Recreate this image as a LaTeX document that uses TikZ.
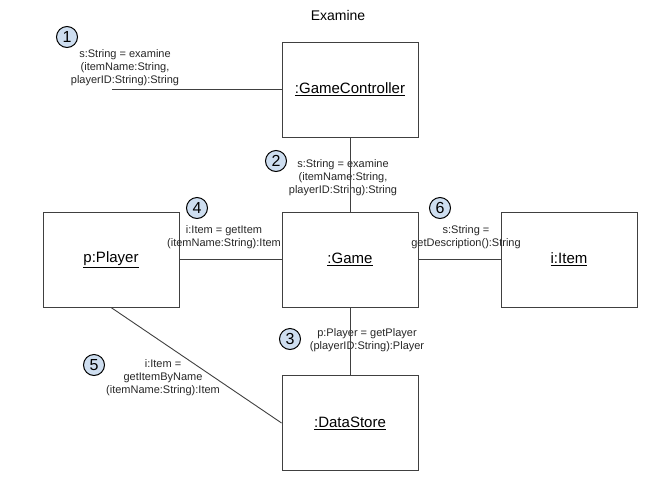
\documentclass[tikz,border=0pt]{standalone}
\usepackage{fontspec}
\setmainfont{Liberation Sans}
\definecolor{numfill}{RGB}{206,222,240}
\begin{document}
\begin{tikzpicture}[x=1pt, y=-1pt,
    obj/.style={draw=black!75, line width=0.9pt, minimum width=136pt, minimum height=95pt,
      inner sep=0pt, font=\fontsize{15}{18}\selectfont},
    msg/.style={align=center, text=black!85, font=\fontsize{11}{13}\selectfont},
    num/.style={circle, draw=black, line width=1pt, fill=numfill, minimum size=21pt,
      inner sep=0pt, font=\fontsize{16}{16}\selectfont},
    link/.style={draw=black!75, line width=0.9pt}]
  \useasboundingbox (0,0) rectangle (667,480);
  % Title
  \node (title) at (338,15) {\fontsize{14}{14}\selectfont Examine};
  % Objects
  \node[obj] (ctrl) at (350,89.5) {\underline{:GameController}};
  \node[obj] (game) at (350,259.5) {\underline{:Game}};
  \node[obj] (player) at (111,259.5) {\underline{p:Player}};
  \node[obj] (item) at (569,259.5) {\underline{i:Item}};
  \node[obj] (store) at (350,423) {\underline{:DataStore}};
  % Messages
  \node[msg] (m1) at (125,68) {s:String = examine\\(itemName:String,\\playerID:String):String};
  \node[msg] (m2) at (343,178) {s:String = examine\\(itemName:String,\\playerID:String):String};
  \node[msg] (m3) at (367,340) {p:Player = getPlayer\\(playerID:String):Player};
  \node[msg] (m4) at (224,237) {i:Item = getItem\\(itemName:String):Item};
  \node[msg] (m5) at (163,378) {i:Item =\\getItemByName\\(itemName:String):Item};
  \node[msg] (m6) at (466,237) {s:String =\\getDescription():String};
  % Links
  \coordinate (actor) at (112,89);
  \draw[link] (actor) -- (ctrl.west |- actor);
  \draw[link] (ctrl) -- (game);
  \draw[link] (player) -- (game);
  \draw[link] (game) -- (item);
  \draw[link] (game) -- (store);
  \draw[link] (player.south) -- (store.west);
  % Sequence numbers
  \node[num] (n1) at (67,37) {1};
  \node[num] (n2) at (276,161) {2};
  \node[num] (n3) at (290,339) {3};
  \node[num] (n4) at (197,208) {4};
  \node[num] (n5) at (94,365) {5};
  \node[num] (n6) at (440,208) {6};
\end{tikzpicture}
\end{document}
